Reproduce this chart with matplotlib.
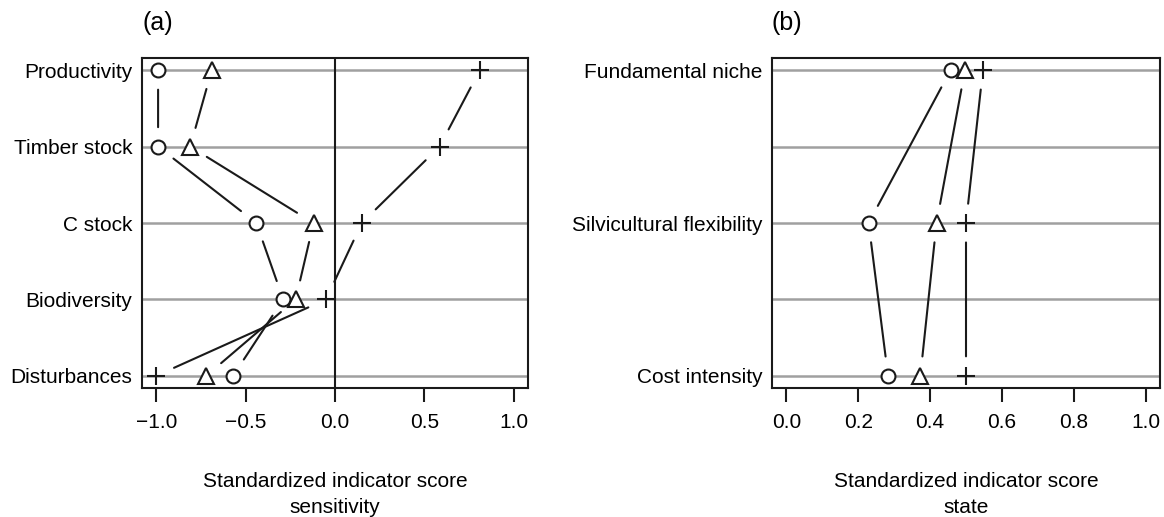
# Indicator score dot charts: sensitivity (a) and state (b)
import numpy as np
import matplotlib.pyplot as plt

plt.rcParams['font.family'] = ['Liberation Sans', 'DejaVu Sans']

# --- data ---
sens_labels = ['Productivity', 'Timber stock', 'C stock', 'Biodiversity', 'Disturbances']
sens_circle = [-0.99, -0.99, -0.44, -0.29, -0.57]
sens_triangle = [-0.69, -0.81, -0.12, -0.22, -0.72]
sens_plus = [0.81, 0.585, 0.15, -0.05, -1.0]
sens_ticks = [-1.0, -0.5, 0.0, 0.5, 1.0]
sens_ticklabels = ['\u22121.0', '\u22120.5', '0.0', '0.5', '1.0']

state_labels = ['Fundamental niche', 'Silvicultural flexibility', 'Cost intensity']
state_circle = [0.457, 0.229, 0.283]
state_triangle = [0.497, 0.418, 0.373]
state_plus = [0.547, 0.50, 0.50]
state_ticks = [0.0, 0.2, 0.4, 0.6, 0.8, 1.0]
state_ticklabels = ['0.0', '0.2', '0.4', '0.6', '0.8', '1.0']

INK = '#1a1a1a'
GREY = '#a0a0a0'
FS = 15


def gapped_line(ax, xs, ys, gap=14):
    # R type="b" look: segments that stop short of the symbols
    for i in range(len(xs) - 1):
        ax.annotate('', xy=(xs[i + 1], ys[i + 1]), xytext=(xs[i], ys[i]),
                    arrowprops=dict(arrowstyle='-', color=INK, lw=1.5,
                                    shrinkA=gap, shrinkB=gap))


def panel(ax, labels, rows, grid_rows, series, ticks, ticklabels, xlim, tag, xlabel):
    ax.hlines(grid_rows, xlim[0], xlim[1], color=GREY, lw=1.8, zorder=1)
    for vals, marker, ms in series:
        ax.plot(vals, rows, linestyle='none', marker=marker, markersize=ms,
                markerfacecolor='white', markeredgecolor=INK, markeredgewidth=1.5,
                color=INK, zorder=4)
        gapped_line(ax, vals, rows)
    ax.set_xlim(*xlim)
    ax.set_ylim(grid_rows[-1] + 0.16 * (grid_rows[-1] - grid_rows[0]) / 4,
                grid_rows[0] - 0.16 * (grid_rows[-1] - grid_rows[0]) / 4)
    ax.set_yticks(rows)
    ax.set_yticklabels(labels, fontsize=FS)
    ax.tick_params(axis='y', length=0, pad=7)
    ax.set_xticks(ticks)
    ax.set_xticklabels(ticklabels, fontsize=FS)
    ax.tick_params(axis='x', length=10, width=1.5, pad=8, color=INK)
    for s in ax.spines.values():
        s.set_linewidth(1.5)
        s.set_color(INK)
    ax.set_xlabel(xlabel, fontsize=FS, labelpad=29, linespacing=1.45)
    ax.text(0.0, 1.105, tag, transform=ax.transAxes, fontsize=18,
            ha='left', va='center')


fig = plt.figure(figsize=(11.64, 5.17), dpi=100)
ax1 = fig.add_axes([0.122, 0.2495, 0.3316, 0.6383])
ax2 = fig.add_axes([0.6632, 0.2495, 0.3334, 0.6383])

rows_a = np.arange(len(sens_labels))
ax1.axvline(0, color=INK, lw=1.5, zorder=2)
panel(ax1, sens_labels, rows_a, rows_a,
      [(sens_circle, 'o', 10), (sens_triangle, '^', 11.5), (sens_plus, '+', 13)],
      sens_ticks, sens_ticklabels, (-1.08, 1.08), '(a)',
      'Standardized indicator score\nsensitivity')

rows_b = np.arange(len(state_labels)) * 2
grid_b = np.arange(2 * len(state_labels) - 1)
panel(ax2, state_labels, rows_b, grid_b,
      [(state_circle, 'o', 10), (state_triangle, '^', 11.5), (state_plus, '+', 13)],
      state_ticks, state_ticklabels, (-0.04, 1.04), '(b)',
      'Standardized indicator score\nstate')

fig.savefig('out.png', dpi=100)
